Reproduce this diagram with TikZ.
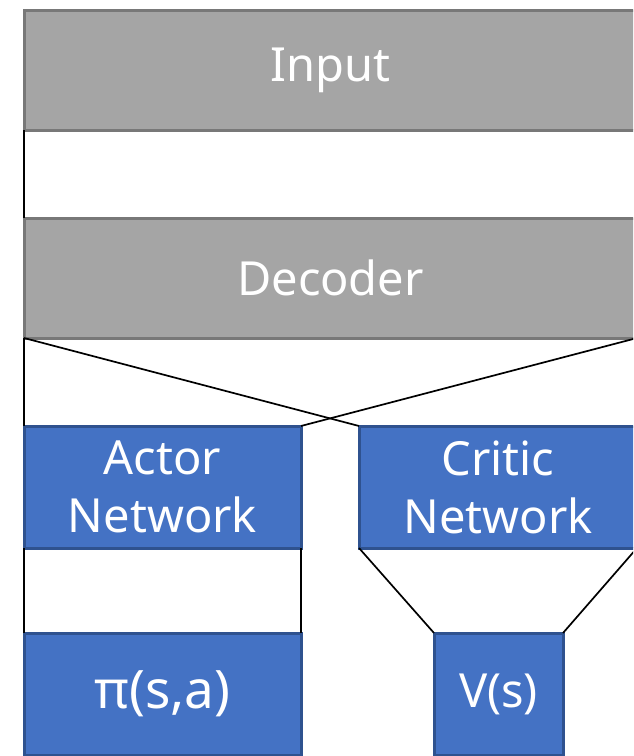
\documentclass[tikz,border=0pt]{standalone}
\usepackage{fontspec}
\setmainfont{Noto Sans}
\definecolor{boxgray}{HTML}{A5A5A5}
\definecolor{edgegray}{HTML}{787878}
\definecolor{boxblue}{HTML}{4472C4}
\definecolor{edgeblue}{HTML}{2F528F}
\begin{document}
\begin{tikzpicture}[x=1pt,y=-1pt,
  box/.style={draw, line width=3pt, inner sep=0pt, outer sep=0pt,
    anchor=north west, align=center, text=white,
    font=\fontsize{47}{58}\selectfont},
  graybox/.style={box, fill=boxgray, draw=edgegray},
  bluebox/.style={box, fill=boxblue, draw=edgeblue},
  link/.style={draw=black, line width=1.7pt}]
  \path[use as bounding box] (0,0) rectangle (633,756);
  \clip (0,0) rectangle (633,756);

  % shared trunk
  \node[graybox, minimum width=613pt, minimum height=120pt] (input) at (24,10) {Input};
  \node[graybox, minimum width=613pt, minimum height=120pt] (decoder) at (24,218) {Decoder};

  % actor and critic heads
  \node[bluebox, minimum width=277pt, minimum height=122pt] (actor) at (24,426) {Actor\\Network};
  \node[bluebox, minimum width=278pt, minimum height=122pt] (critic) at (359,426) {Critic\\Network};

  % outputs
  \node[bluebox, minimum width=277pt, minimum height=122pt,
        font=\fontsize{53}{60}\selectfont] (pi) at (24,633) {π(s,a)};
  \node[bluebox, minimum width=129pt, minimum height=122pt] (v) at (434,633) {V(s)};

  % connectors between box corners
  \draw[link] (input.south west) -- (decoder.north west);
  \draw[link] (decoder.south west) -- (actor.north west);
  \draw[link] (decoder.south west) -- (critic.north west);
  \draw[link] (decoder.south east) -- (actor.north east);
  \draw[link] (actor.south west) -- (pi.north west);
  \draw[link] (actor.south east) -- (pi.north east);
  \draw[link] (critic.south west) -- (v.north west);
  \draw[link] (critic.south east) -- (v.north east);
\end{tikzpicture}
\end{document}
